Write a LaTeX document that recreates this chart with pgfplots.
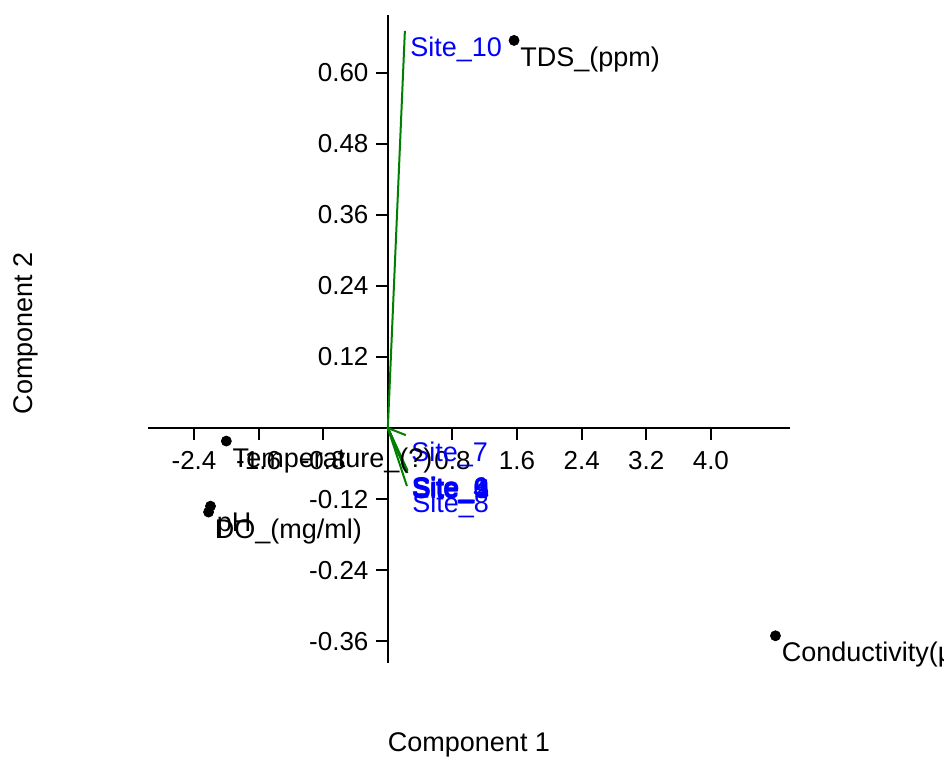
\documentclass[border=0pt]{standalone}
\usepackage{fontspec}
\setmainfont{Liberation Sans}
\usepackage{pgfplots}
\pgfplotsset{compat=1.18}
\usepackage{pgfplotstable}
\definecolor{vecgreen}{RGB}{0,128,0}
\definecolor{sitelabel}{RGB}{0,0,255}

% variable scores (black dots)
\pgfplotstableread{
x      y       label
1.563  0.655   TDS\_(ppm)
4.800  -0.351  Conductivity(µS/cm)
-2.000 -0.022  Temperature\_(?)
-2.196 -0.132  pH
-2.220 -0.142  DO\_(mg/ml)
}\varpts

% site loadings (green vectors from origin)
\pgfplotstableread{
x      y       label
0.245  -0.072  Site\_1
0.240  -0.074  Site\_2
0.235  -0.073  Site\_3
0.230  -0.075  Site\_4
0.242  -0.076  Site\_5
0.228  -0.072  Site\_6
0.223  -0.012  Site\_7
0.236  -0.098  Site\_8
0.238  -0.074  Site\_9
0.211  0.671   Site\_10
}\sites

\begin{document}
\begin{tikzpicture}[font=\fontsize{13.5pt}{16pt}\selectfont]
\begin{axis}[
    at={(74pt,47.5pt)}, anchor=south west,
    scale only axis,
    width=321pt, height=324pt,
    axis lines*=middle,
    xmin=-2.97, xmax=4.98,
    ymin=-0.397, ymax=0.698,
    axis line style={line width=1pt, black},
    tick style={line width=1pt, black},
    tick align=outside,
    major tick length=6pt,
    xtick={-2.4,-1.6,-0.8,0.8,1.6,2.4,3.2,4.0},
    xticklabels={-2.4,-1.6,-0.8,0.8,1.6,2.4,3.2,4.0},
    ytick={-0.36,-0.24,-0.12,0.12,0.24,0.36,0.48,0.60},
    yticklabels={-0.36,-0.24,-0.12,0.12,0.24,0.36,0.48,0.60},
    tick label style={font=\fontsize{13pt}{15.6pt}\selectfont},
    x tick label style={yshift=-2pt},
    y tick label style={inner sep=3.5pt},
    xlabel={Component 1},
    ylabel={Component 2},
    xlabel style={at={(axis description cs:0.5,-0.127)}, anchor=center},
    ylabel style={at={(axis description cs:-0.19,0.509)}, anchor=center},
    clip=false,
]
% green vectors
\addplot[vecgreen, line width=1pt, quiver={u=\thisrow{x}, v=\thisrow{y}}]
    table[x expr=0, y expr=0] {\sites};
% site labels
\addplot[draw=none, mark=none, nodes near coords, point meta=explicit symbolic,
    nodes near coords style={anchor=north west, inner sep=1pt, xshift=1.5pt, yshift=-2pt, text=sitelabel}]
    table[x=x, y=y, meta=label] {\sites};
% variable points
\addplot[only marks, mark=*, mark size=2.5pt, black, nodes near coords, point meta=explicit symbolic,
    nodes near coords style={anchor=north west, inner sep=1pt, xshift=2pt, yshift=-2pt, text=black}]
    table[x=x, y=y, meta=label] {\varpts};
\end{axis}
\pgfresetboundingbox
\useasboundingbox (0,0) rectangle (472pt,379pt);
\end{tikzpicture}
\end{document}
